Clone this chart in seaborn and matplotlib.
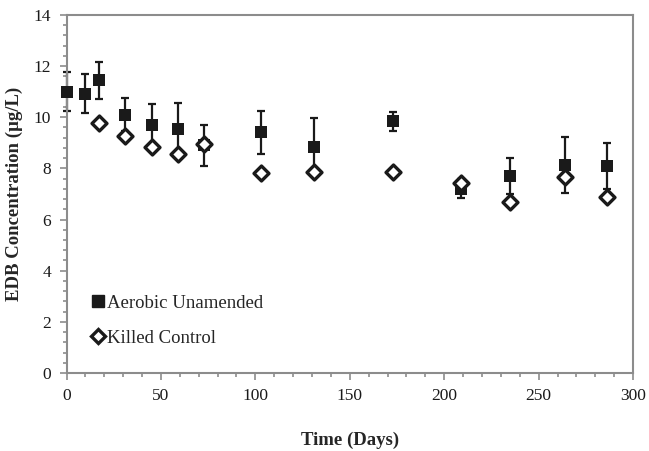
import numpy as np
import pandas as pd
import matplotlib
matplotlib.use("Agg")
import matplotlib.pyplot as plt
from matplotlib.ticker import MultipleLocator
from matplotlib.lines import Line2D
import seaborn as sns

# data
aerobic_days = [0, 10, 17, 31, 45, 59, 73, 103, 131, 173, 209, 235, 264, 286]
aerobic_conc = [11.0, 10.92, 11.44, 10.1, 9.7, 9.53, 8.9, 9.41, 8.85, 9.84, 7.2, 7.71, 8.13, 8.1]
aerobic_err = [0.76, 0.75, 0.72, 0.65, 0.82, 1.02, 0.8, 0.83, 1.12, 0.37, 0.37, 0.71, 1.1, 0.9]

killed_days = [17, 31, 45, 59, 73, 103, 131, 173, 209, 235, 264, 286]
killed_conc = [9.78, 9.28, 8.82, 8.56, 8.95, 7.8, 7.86, 7.86, 7.42, 6.68, 7.68, 6.88]

sns.set_style("white")
plt.rcParams['font.family'] = ['Liberation Serif', 'DejaVu Serif']

df_a = pd.DataFrame({"day": aerobic_days, "conc": aerobic_conc, "err": aerobic_err})
df_k = pd.DataFrame({"day": killed_days, "conc": killed_conc})

fig = plt.figure(figsize=(6.49, 4.51), dpi=100)
ax = fig.add_axes([0.1025, 0.173, 0.873, 0.794])

# error bars first, markers on top
ax.errorbar(df_a["day"], df_a["conc"], yerr=df_a["err"], fmt="none",
            ecolor="#1a1a1a", elinewidth=1.6, capsize=3, capthick=1.6, zorder=2,
            clip_on=False)
sns.scatterplot(data=df_a, x="day", y="conc", marker="s", s=85, color="#1a1a1a",
                edgecolor="#1a1a1a", linewidth=0, ax=ax, zorder=3, clip_on=False)
sns.scatterplot(data=df_k, x="day", y="conc", marker="D", s=58, color="white",
                edgecolor="#1a1a1a", linewidth=2.4, ax=ax, zorder=4, clip_on=False)

ax.set_xlim(0, 300)
ax.set_ylim(0, 14)
ax.xaxis.set_major_locator(MultipleLocator(50))
ax.xaxis.set_minor_locator(MultipleLocator(10))
ax.yaxis.set_major_locator(MultipleLocator(2))
ax.yaxis.set_minor_locator(MultipleLocator(0.4))

gray = "#8c8c8c"
for sp in ax.spines.values():
    sp.set_color(gray)
    sp.set_linewidth(1.5)
ax.tick_params(which="both", direction="out", color=gray, width=1.2,
               labelsize=12.5, labelcolor="#1a1a1a", bottom=True, left=True)
ax.tick_params(which="major", length=5, pad=6)
ax.tick_params(which="minor", length=3)

ax.set_xlabel("Time (Days)", fontsize=13.5, fontweight="bold", labelpad=20)
ax.set_ylabel("EDB Concentration (\u00b5g/L)", fontsize=13.5, fontweight="bold", labelpad=8)

handles = [
    Line2D([], [], marker="s", linestyle="none", markersize=9, color="#1a1a1a",
           label="Aerobic Unamended"),
    Line2D([], [], marker="D", linestyle="none", markersize=7, markerfacecolor="white",
           markeredgecolor="#1a1a1a", markeredgewidth=2.4, label="Killed Control"),
]
ax.legend(handles=handles, loc="lower left", bbox_to_anchor=(0.025, 0.042), frameon=False,
          fontsize=13.5, handlelength=0.6, handletextpad=0.2, labelspacing=0.95,
          borderaxespad=0.2)

fig.savefig("out.png", dpi=100)
